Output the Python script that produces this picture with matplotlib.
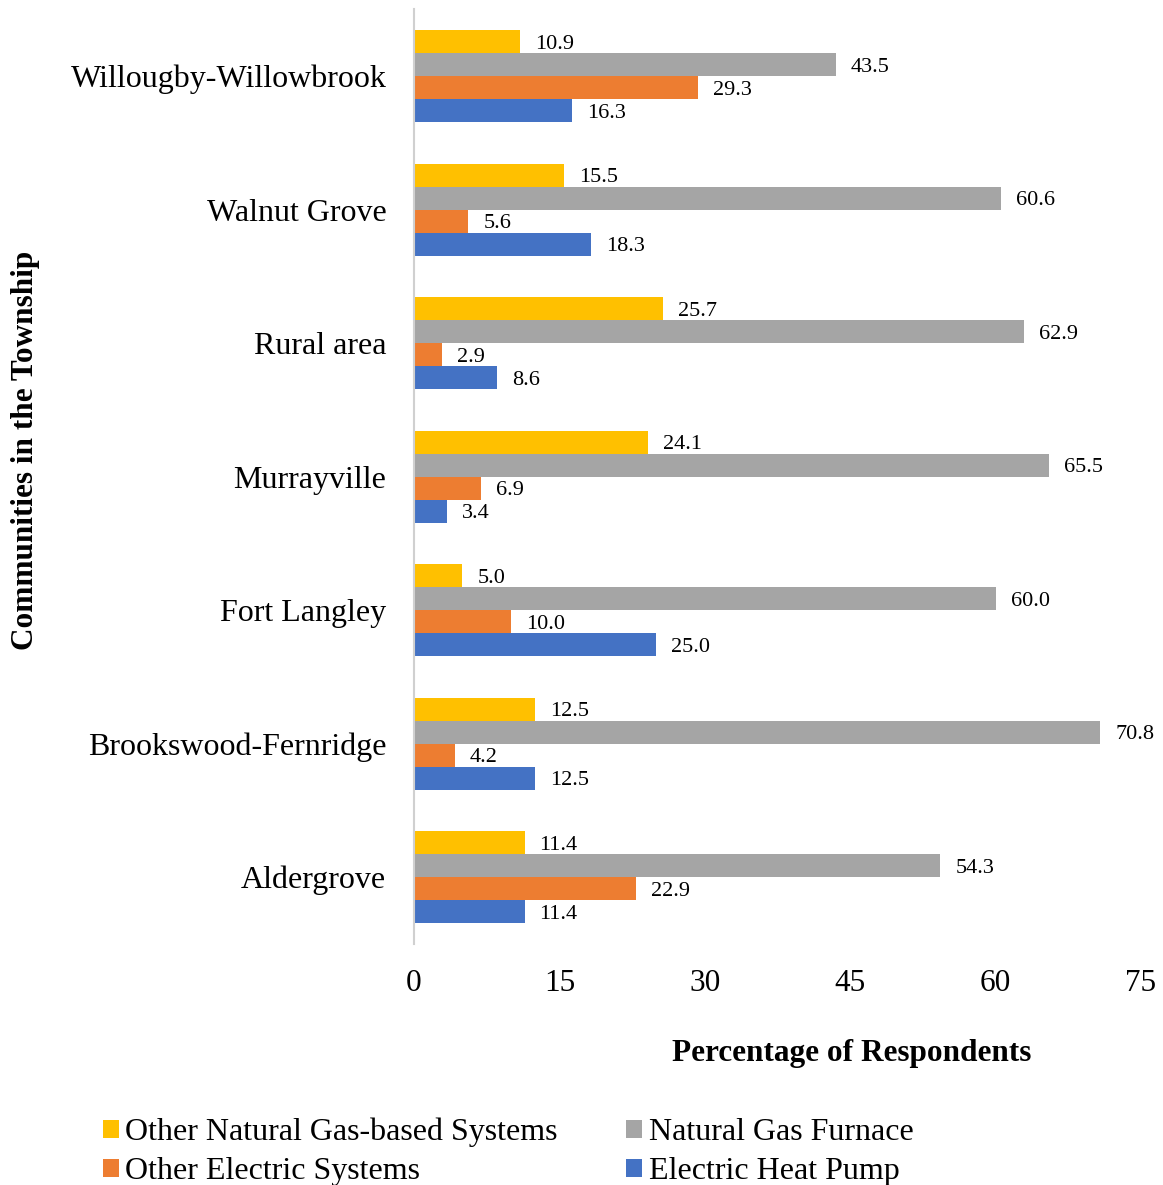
import numpy as np
import matplotlib
matplotlib.use("Agg")
import matplotlib.pyplot as plt

plt.rcParams["font.family"] = ["Liberation Serif", "DejaVu Serif"]

# Data (top to bottom as shown)
communities = ["Willougby-Willowbrook", "Walnut Grove", "Rural area", "Murrayville",
               "Fort Langley", "Brookswood-Fernridge", "Aldergrove"]
other_gas = [10.9, 15.5, 25.7, 24.1, 5.0, 12.5, 11.4]
gas_furnace = [43.5, 60.6, 62.9, 65.5, 60.0, 70.8, 54.3]
other_electric = [29.3, 5.6, 2.9, 6.9, 10.0, 4.2, 22.9]
heat_pump = [16.3, 18.3, 8.6, 3.4, 25.0, 12.5, 11.4]

series = [
    ("Other Natural Gas-based Systems", other_gas, "#FFC000"),
    ("Natural Gas Furnace", gas_furnace, "#A5A5A5"),
    ("Other Electric Systems", other_electric, "#ED7D31"),
    ("Electric Heat Pump", heat_pump, "#4472C4"),
]

fig = plt.figure(figsize=(11.63, 11.85), dpi=100)
ax = fig.add_axes([0.356, 0.2034, 0.625, 0.7886])

n = len(communities)
y = np.arange(n)[::-1].astype(float)
h = 0.172

handles = {}
for i, (name, vals, col) in enumerate(series):
    ypos = y + (1.5 - i) * h
    bars = ax.barh(ypos, vals, height=h, color=col, label=name)
    handles[name] = bars
    for yy, v in zip(ypos, vals):
        ax.text(v + 1.55, yy, f"{v:.1f}", va="center_baseline", ha="left",
                fontsize=16, clip_on=False)

ax.set_xlim(0, 75)
ax.set_ylim(-0.5, n - 0.5)
ax.set_xticks([0, 15, 30, 45, 60, 75])
ax.set_yticks(y)
ax.set_yticklabels(communities)
ax.tick_params(axis="x", length=0, pad=18, labelsize=22.5)
ax.tick_params(axis="y", length=0, pad=20, labelsize=23)
for s in ["top", "right", "bottom"]:
    ax.spines[s].set_visible(False)
ax.spines["left"].set_color("#D0D0D0")
ax.spines["left"].set_linewidth(1.5)

fig.text(852 / 1163, 1 - 1053 / 1185, "Percentage of Respondents",
         ha="center", va="center", fontsize=22.5, fontweight="bold")
fig.text(26 / 1163, 1 - 450 / 1185, "Communities in the Township",
         ha="center", va="center", rotation=90, fontsize=22.5, fontweight="bold")

order = ["Other Natural Gas-based Systems", "Other Electric Systems",
         "Natural Gas Furnace", "Electric Heat Pump"]
fig.legend([handles[k] for k in order], order, ncol=2, frameon=False,
           loc="center left", bbox_to_anchor=(74 / 1163, 1 - 1152 / 1185),
           fontsize=23, handlelength=0.5, handleheight=0.5,
           handletextpad=0.2, columnspacing=2.15, labelspacing=0.3)

fig.savefig("out.png", dpi=100)
